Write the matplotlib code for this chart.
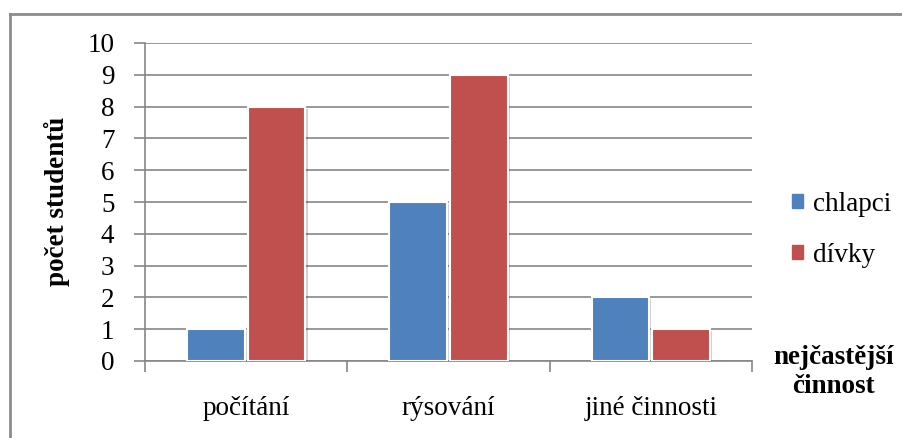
import matplotlib
matplotlib.use("Agg")
import matplotlib.pyplot as plt
import matplotlib.patheffects as pe
from matplotlib.lines import Line2D
import numpy as np

categories = ["počítání", "rýsování", "jiné činnosti"]
chlapci = [1, 5, 2]
divky = [8, 9, 1]
series_names = ["chlapci", "dívky"]
y_ticks = list(range(0, 11))

plt.rcParams["font.family"] = ["Liberation Serif", "DejaVu Serif"]
FS = 19.5
GRID = "#868686"
BLUE = "#4F81BD"
RED = "#C0504D"

W, H = 902, 438
fig = plt.figure(figsize=(W / 100, H / 100), dpi=100)
ax = fig.add_axes([145 / W, 1 - 361 / H, (752 - 145) / W, (361 - 43) / H])

x = np.arange(len(categories))
bw = 0.285
shadow = [pe.SimplePatchShadow(offset=(1.5, -1.5), shadow_rgbFace="#000000", alpha=0.18), pe.Normal()]
b1 = ax.bar(x - bw / 2 - 0.008, chlapci, bw, color=BLUE, edgecolor="white", linewidth=1.5, zorder=3)
b2 = ax.bar(x + bw / 2 + 0.008, divky, bw, color=RED, edgecolor="white", linewidth=1.5, zorder=3)
for p in list(b1) + list(b2):
    p.set_path_effects(shadow)

ax.set_xlim(-0.5, len(categories) - 0.5)
ax.set_ylim(0, 10)
ax.set_yticks(y_ticks)
ax.set_yticklabels([str(v) for v in y_ticks], fontsize=FS)
ax.yaxis.grid(True, color=GRID, linewidth=1.2, zorder=0)
ax.set_axisbelow(True)

# category labels between boundary ticks
ax.set_xticks(x)
ax.set_xticklabels(categories, fontsize=FS)
ax.tick_params(axis="x", length=0, pad=25)
ax.set_xticks(np.arange(-0.5, len(categories)), minor=True)
ax.tick_params(axis="x", which="minor", length=8, width=1.2, color=GRID)
ax.tick_params(axis="y", length=8, width=1.2, color=GRID, pad=14)

for s in ["top", "right"]:
    ax.spines[s].set_visible(False)
for s in ["left", "bottom"]:
    ax.spines[s].set_color(GRID)
    ax.spines[s].set_linewidth(1.2)

fig.text(57 / W, 1 - 201 / H, "počet studentů", rotation=90, fontsize=FS,
         fontweight="bold", ha="center", va="center")
fig.text(833 / W, 1 - 372 / H, "nejčastější\nčinnost", fontsize=FS,
         fontweight="bold", ha="center", va="center", linespacing=1.25)

handles = [plt.Rectangle((0, 0), 1, 1, color=BLUE), plt.Rectangle((0, 0), 1, 1, color=RED)]
fig.legend(handles, series_names, loc="center left", bbox_to_anchor=(792 / W, 1 - 230 / H),
           frameon=False, fontsize=FS, handlelength=0.42, handleheight=0.42,
           handletextpad=0.35, labelspacing=0.95, borderaxespad=0, borderpad=0)

# chart frame
fig.add_artist(Line2D([9.5 / W, 1], [1 - 13.5 / H, 1 - 13.5 / H], color="#8c8c8c", linewidth=2))
fig.add_artist(Line2D([9.5 / W, 9.5 / W], [0, 1 - 13.5 / H], color="#8c8c8c", linewidth=2))

fig.savefig("out.png", dpi=100, facecolor="white")
